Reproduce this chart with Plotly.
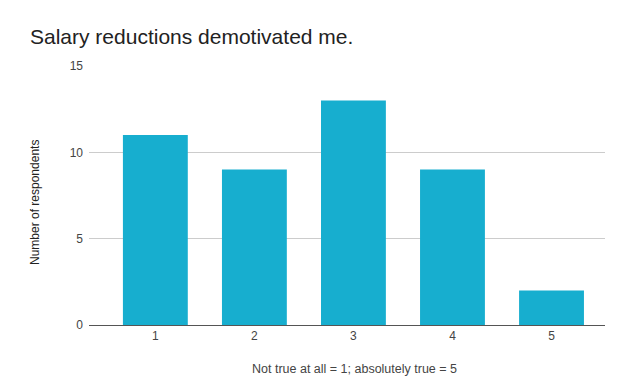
import plotly.graph_objects as go

categories = ["1", "2", "3", "4", "5"]
values = [11, 9, 13, 9, 2]
y_ticks = [0, 5, 10, 15]

fig = go.Figure()
fig.add_trace(go.Bar(
    x=list(range(len(categories))),
    y=values,
    marker=dict(color="#17aecf", line=dict(width=0)),
    width=0.655,
))

plot_l, plot_r, plot_t, plot_b = 89, 605, 66, 325
pw, ph = plot_r - plot_l, plot_b - plot_t

fig.update_layout(
    width=643, height=387,
    margin=dict(l=plot_l, r=643 - plot_r, t=plot_t, b=387 - plot_b),
    paper_bgcolor="white", plot_bgcolor="white",
    font=dict(family="Arial, Liberation Sans, sans-serif", color="#444"),
    title=dict(text="Salary reductions demotivated me.", x=30/643, xanchor="left",
               y=1 - 37/387, yanchor="middle",
               font=dict(size=21, color="#222")),
    showlegend=False,
    xaxis=dict(
        range=[-0.67, 4.54],
        tickmode="array", tickvals=list(range(len(categories))), ticktext=categories,
        showgrid=False, showline=True, linecolor="#555", linewidth=1,
        ticks="", tickfont=dict(size=12, color="#444"),
        zeroline=False,
    ),
    yaxis=dict(
        range=[0, 15], tickvals=y_ticks,
        showgrid=True, gridcolor="#cccccc", gridwidth=1,
        zeroline=False, showline=False,
        ticks="", tickfont=dict(size=12, color="#444"), ticklabelstandoff=5,
    ),
    annotations=[
        dict(text="Not true at all = 1; absolutely true = 5", xref="paper", yref="paper",
             x=(354.5 - plot_l) / pw, y=(plot_b - 369) / ph, xanchor="center", yanchor="middle",
             showarrow=False, font=dict(size=12.5, color="#444")),
        dict(text="Number of respondents", xref="paper", yref="paper",
             x=(35 - plot_l) / pw, y=(plot_b - 203) / ph, xanchor="center", yanchor="middle",
             textangle=-90, showarrow=False, font=dict(size=12, color="#222")),
    ],
)

fig.write_html("out.html", config={"displayModeBar": False},
               post_script="document.body.style.margin='0';")
